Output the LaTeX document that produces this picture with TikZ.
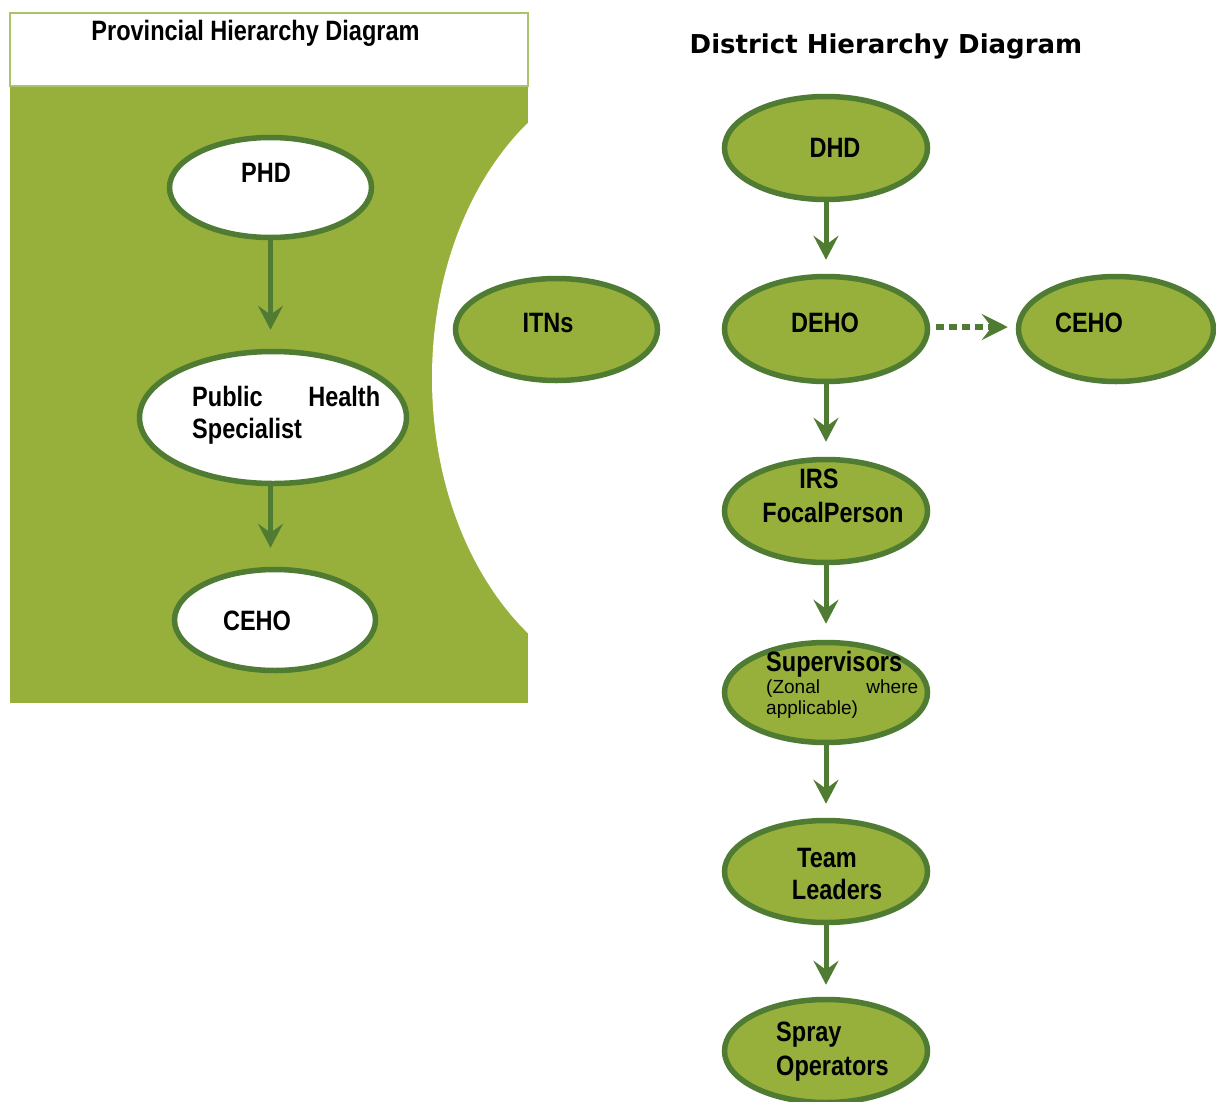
\documentclass[tikz,border=0pt]{standalone}
\usepackage{fontspec}
\setmainfont{Liberation Sans}
\newfontfamily\condf{Liberation Sans}[FakeStretch=0.84]
\newfontfamily\dejaf{DejaVu Sans}
\usetikzlibrary{arrows.meta,shapes.geometric}
\definecolor{panelgreen}{HTML}{97B03C}
\definecolor{darkgreen}{HTML}{4F7B33}
\definecolor{lightline}{HTML}{A9C46A}
\tikzset{
  ell/.style={ellipse, draw=darkgreen, line width=5.5pt, inner sep=0pt},
  gell/.style={ell, fill=panelgreen},
  well/.style={ell, fill=white},
  arr/.style={draw=darkgreen, line width=5pt, -{Stealth[length=24pt,width=25pt,inset=9pt]}},
  dotarr/.style={draw=darkgreen, line width=6pt, dash pattern=on 8pt off 5pt, -{Stealth[length=26pt,width=26pt,inset=10pt]}},
  lbl/.style={font=\condf\bfseries\fontsize{28}{32}\selectfont, inner sep=0pt},
  small/.style={font=\fontsize{19}{22}\selectfont, inner sep=0pt},
}
\begin{document}
\begin{tikzpicture}[x=1pt,y=-1pt]
\useasboundingbox (0,0) rectangle (1216,1101);
% left panel with curved cut-out
\fill[panelgreen] (10,86) rectangle (528,703);
\begin{scope}
  \clip (10,86) rectangle (528,703);
  \fill[white] (660,378) ellipse [x radius=228, y radius=313];
\end{scope}
\draw[lightline, line width=2pt, fill=white] (10,13) rectangle (528,86);
\node[lbl, anchor=base] (ptitle) at (255.5,40) {Provincial Hierarchy Diagram};
\node[font=\dejaf\bfseries\fontsize{26}{30}\selectfont, inner sep=0pt, anchor=base] (dtitle) at (886,53.5) {District Hierarchy Diagram};
% provincial ellipses
\node[well, minimum width=202pt, minimum height=100pt] (phd) at (270.5,187.5) {};
\node[well, minimum width=267pt, minimum height=132pt] (phs) at (273,417.5) {};
\node[well, minimum width=201pt, minimum height=101pt] (cehol) at (275,620) {};
% district ellipses
\node[gell, minimum width=202pt, minimum height=102pt] (itns) at (556.5,329.5) {};
\node[gell, minimum width=203pt, minimum height=103pt] (dhd) at (826,148) {};
\node[gell, minimum width=203pt, minimum height=105pt] (deho) at (826,329) {};
\node[gell, minimum width=195pt, minimum height=105pt] (cehor) at (1116,329) {};
\node[gell, minimum width=203pt, minimum height=103pt] (irs) at (826,511) {};
\node[gell, minimum width=203pt, minimum height=100pt] (sup) at (826,692.5) {};
\node[gell, minimum width=203pt, minimum height=102pt] (team) at (826,871.5) {};
\node[gell, minimum width=203pt, minimum height=103pt] (spray) at (826,1051) {};
% arrows
\draw[arr] (phd.south) -- ([yshift=19pt]phd.south |- phs.north);
\draw[arr] ([xshift=-2.5pt]phs.south) -- ([xshift=-2.5pt,yshift=19pt]phs.south |- cehol.north);
\draw[arr] (dhd.south) -- ([yshift=14pt]deho.north);
\draw[arr] (deho.south) -- ([yshift=15pt]irs.north);
\draw[arr] (irs.south) -- ([yshift=16pt]sup.north);
\draw[arr] (sup.south) -- ([yshift=14pt]team.north);
\draw[arr] (team.south) -- ([yshift=12pt]spray.north);
\draw[dotarr] ([xshift=6pt,yshift=2pt]deho.east) -- ([xshift=-8pt,yshift=2pt]cehor.west);
% labels
\node[lbl, anchor=base] at (266,182) {PHD};
\node[lbl, anchor=base west] at (192,406) {\makebox[188pt][s]{Public Health}};
\node[lbl, anchor=base west] at (192,438) {Specialist};
\node[lbl, anchor=base] at (257,630) {CEHO};
\node[lbl, anchor=base] at (548,332) {ITNs};
\node[lbl, anchor=base] at (835,157) {DHD};
\node[lbl, anchor=base] at (825,332) {DEHO};
\node[lbl, anchor=base] at (1089,332) {CEHO};
\node[lbl, anchor=base] at (819,488) {IRS};
\node[lbl, anchor=base] at (833,522) {FocalPerson};
\node[lbl, anchor=base west] at (766,671) {Supervisors};
\node[small, anchor=base west] at (766,693) {\makebox[152pt][s]{(Zonal where}};
\node[small, anchor=base west] at (766,714) {applicable)};
\node[lbl, anchor=base] at (827,867) {Team};
\node[lbl, anchor=base] at (837,899) {Leaders};
\node[lbl, anchor=base west] at (776,1041) {Spray};
\node[lbl, anchor=base west] at (776,1075) {Operators};
\end{tikzpicture}
\end{document}
